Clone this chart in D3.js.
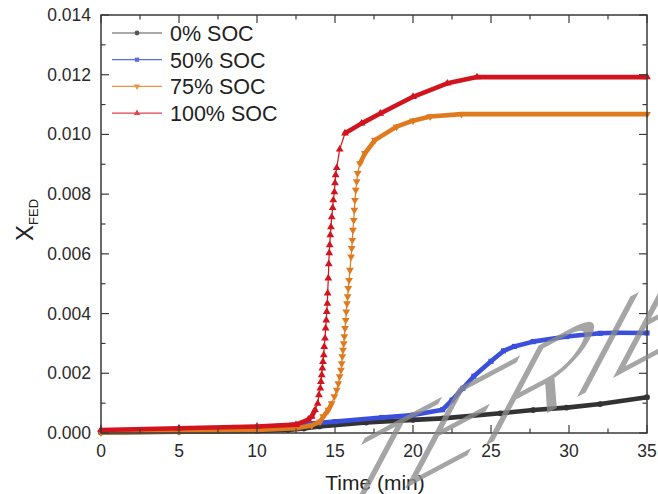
<!DOCTYPE html>
<html>
<head>
<meta charset="utf-8">
<script src="https://cdn.jsdelivr.net/npm/d3@7"></script>
<style>
  body { margin: 0; background: #fff; }
  svg { display: block; font-family: 'Liberation Sans', Arial, sans-serif; }
</style>
</head>
<body>
<div id="chart"></div>
<script>
// values: [time (min), X_FED]
const soc0 = [[0, 0.00002], [5, 0.00004], [10, 0.00007], [12, 0.0001], [13, 0.00015], [14, 0.00022],
  [17, 0.00035], [20, 0.00044], [21.9, 0.00049], [25.6, 0.00066], [27.7, 0.00077], [29.85, 0.00085],
  [32, 0.00097], [35, 0.0012]]

const soc50 = [[0, 0.00004], [5, 0.0001], [10, 0.00018], [13, 0.0003], [15, 0.00038], [18, 0.00052],
  [20, 0.0006], [21.9, 0.00078], [22.5, 0.0011], [23.2, 0.0015], [23.9, 0.0019], [25, 0.0024],
  [25.8, 0.00275], [26.5, 0.0029], [27.7, 0.00306], [29.85, 0.00323], [32, 0.00334], [33, 0.00336],
  [35, 0.00335]]

const soc75 = [[0, 0.00002], [5, 0.00005], [10, 0.0001], [12.5, 0.00016], [13.5, 0.00025], [14.04, 0.00038],
  [14.25, 0.00055], [14.57, 0.00077], [14.79, 0.00099], [14.96, 0.00122], [15.11, 0.00144], [15.21, 0.00166],
  [15.3, 0.00189], [15.38, 0.00211], [15.43, 0.00233], [15.47, 0.00256], [15.51, 0.00278], [15.56, 0.003],
  [15.6, 0.00323], [15.64, 0.00351], [15.69, 0.00378], [15.72, 0.00406], [15.77, 0.00434], [15.81, 0.00457],
  [15.85, 0.00485], [15.9, 0.00512], [15.96, 0.00546], [16.03, 0.0059], [16.07, 0.00619], [16.11, 0.00646],
  [16.15, 0.0068], [16.2, 0.00713], [16.24, 0.00747], [16.28, 0.0078], [16.33, 0.00814], [16.39, 0.00842],
  [16.45, 0.0087], [16.6, 0.00903], [16.92, 0.00937], [17.56, 0.00981], [18.95, 0.01026], [20, 0.01046],
  [21.1, 0.0106], [23.1, 0.01068], [35, 0.01068]]

const soc100 = [[0, 0.0001], [5, 0.00016], [10, 0.00022], [12.5, 0.00028], [13.29, 0.00045], [13.51, 0.00055],
  [13.72, 0.00077], [13.89, 0.00099], [13.97, 0.00127], [14.06, 0.0015], [14.1, 0.00172], [14.15, 0.00194],
  [14.19, 0.00217], [14.23, 0.00239], [14.28, 0.00261], [14.31, 0.00289], [14.36, 0.00317], [14.4, 0.00351],
  [14.44, 0.00378], [14.47, 0.00406], [14.51, 0.00434], [14.53, 0.00468], [14.57, 0.00518], [14.6, 0.00566],
  [14.63, 0.00603], [14.66, 0.0063], [14.7, 0.00663], [14.74, 0.0069], [14.79, 0.00723], [14.85, 0.00754],
  [14.89, 0.0078], [14.96, 0.00807], [15.0, 0.00837], [15.04, 0.00864], [15.11, 0.00888], [15.3, 0.0095],
  [15.64, 0.01004], [16.71, 0.01037], [17.9, 0.0107], [20, 0.01126], [22.2, 0.01171], [24.1, 0.01192],
  [35, 0.01192]]

const seriesNames = ['0% SOC', '50% SOC', '75% SOC', '100% SOC']
const xTicks = [0, 5, 10, 15, 20, 25, 30, 35]
const yTicks = [0, 0.002, 0.004, 0.006, 0.008, 0.010, 0.012, 0.014]

const width = 658
const height = 494
const margin = { top: 15, right: 11, bottom: 61, left: 101 }

const series = [
  { name: seriesNames[0], data: soc0, color: '#333333', legendColor: '#555555', symbol: d3.symbolCircle },
  { name: seriesNames[1], data: soc50, color: '#3a4fdc', legendColor: '#5a6ee8', symbol: d3.symbolSquare },
  { name: seriesNames[2], data: soc75, color: '#e07a1f', legendColor: '#ea9448', symbol: d3.symbolTriangle, flip: true },
  { name: seriesNames[3], data: soc100, color: '#d2141e', legendColor: '#e0454c', symbol: d3.symbolTriangle }
]

const svg = d3.select('#chart')
  .append('svg')
  .attr('width', width)
  .attr('height', height)

const x = d3.scaleLinear().domain([0, 35]).range([margin.left, width - margin.right])
const y = d3.scaleLinear().domain([0, 0.014]).range([height - margin.bottom, margin.top])

const axisColor = '#3a3a3a'
const plot = svg.append('g')

// draw every segment; steep ones stay thin (markers spread apart), flat ones look like the dense band
series.forEach(s => {
  const g = plot.append('g')
  for (let i = 1; i < s.data.length; i++) {
    const x0 = x(s.data[i - 1][0])
    const y0 = y(s.data[i - 1][1])
    const x1 = x(s.data[i][0])
    const y1 = y(s.data[i][1])
    const steep = Math.abs(y1 - y0) > 2.2 * Math.abs(x1 - x0)
    g.append('line')
      .attr('x1', x0).attr('y1', y0)
      .attr('x2', x1).attr('y2', y1)
      .attr('stroke', s.color)
      .attr('stroke-width', steep ? 1.2 : 4.6)
      .attr('stroke-linecap', 'round')
  }
  g.selectAll('path.mark')
    .data(s.data)
    .enter()
    .append('path')
    .attr('class', 'mark')
    .attr('d', d3.symbol().type(s.symbol).size(26))
    .attr('transform', d => `translate(${x(d[0])},${y(d[1])})` + (s.flip ? ' rotate(180)' : ''))
    .attr('fill', s.color)
})

// frame
svg.append('rect')
  .attr('x', margin.left)
  .attr('y', margin.top)
  .attr('width', width - margin.left - margin.right)
  .attr('height', height - margin.top - margin.bottom)
  .attr('fill', 'none')
  .attr('stroke', axisColor)
  .attr('stroke-width', 1.5)

// inward ticks on all four sides
const xMinor = d3.range(0, 35.01, 2.5)
const yMinor = d3.range(0, 0.01401, 0.001)
const ticks = svg.append('g').attr('stroke', axisColor).attr('stroke-width', 1.2)
xMinor.forEach(t => {
  const len = xTicks.includes(t) ? 8 : 4.5
  ticks.append('line').attr('x1', x(t)).attr('x2', x(t)).attr('y1', y(0)).attr('y2', y(0) - len)
  ticks.append('line').attr('x1', x(t)).attr('x2', x(t)).attr('y1', y(0.014)).attr('y2', y(0.014) + len)
})
yMinor.forEach((v, i) => {
  const len = i % 2 === 0 ? 8 : 4.5
  ticks.append('line').attr('y1', y(v)).attr('y2', y(v)).attr('x1', x(0)).attr('x2', x(0) + len)
  ticks.append('line').attr('y1', y(v)).attr('y2', y(v)).attr('x1', x(35)).attr('x2', x(35) - len)
})

// tick labels
svg.append('g')
  .selectAll('text')
  .data(xTicks)
  .enter()
  .append('text')
  .attr('x', d => x(d))
  .attr('y', y(0) + 24)
  .attr('text-anchor', 'middle')
  .attr('font-size', 17.5)
  .attr('fill', '#2a2a2a')
  .text(d => d)

svg.append('g')
  .selectAll('text')
  .data(yTicks)
  .enter()
  .append('text')
  .attr('x', margin.left - 10)
  .attr('y', d => y(d) + 6)
  .attr('text-anchor', 'end')
  .attr('font-size', 17.5)
  .attr('fill', '#2a2a2a')
  .text(d => d3.format('.3f')(d))

// axis titles
svg.append('text')
  .attr('x', 375)
  .attr('y', 490)
  .attr('text-anchor', 'middle')
  .attr('font-size', 21)
  .attr('fill', '#222')
  .text('Time (min)')

const yTitle = svg.append('text')
  .attr('transform', 'translate(33,241) rotate(-90)')
  .attr('fill', '#222')
yTitle.append('tspan').attr('font-size', 24).text('X')
yTitle.append('tspan').attr('font-size', 13).attr('dy', 5).text('FED')

// legend
const legend = svg.append('g')
series.forEach((s, i) => {
  const ly = 33 + i * 26.7
  legend.append('line')
    .attr('x1', 112).attr('x2', 162)
    .attr('y1', ly).attr('y2', ly)
    .attr('stroke', s.legendColor)
    .attr('stroke-width', 1.2)
  legend.append('path')
    .attr('d', d3.symbol().type(s.symbol).size(18))
    .attr('transform', `translate(137,${ly})` + (s.flip ? ' rotate(180)' : ''))
    .attr('fill', s.legendColor)
  legend.append('text')
    .attr('x', 170)
    .attr('y', ly + 8)
    .attr('font-size', 21.5)
    .attr('fill', '#222')
    .text(s.name)
})

// watermark over the lower right of the plot (slanted, rising to the right)
svg.append('text')
  .attr('transform', 'matrix(0.883,-0.469,-0.469,0.883,308,540)')
  .attr('font-family', 'Roboto, sans-serif')
  .attr('font-weight', 300)
  .attr('font-size', 160)
  .attr('fill', '#8c8c8c')
  .attr('fill-opacity', 0.78)
  .text('TERIES')
</script>
</body>
</html>
